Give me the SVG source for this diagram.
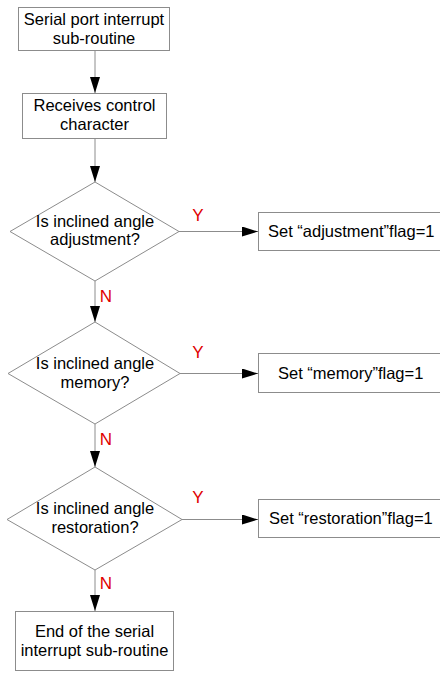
<svg xmlns="http://www.w3.org/2000/svg" width="440" height="673" viewBox="0 0 440 673">
<defs>
<marker id="ah" markerWidth="16" markerHeight="10" refX="16" refY="5" orient="auto" markerUnits="userSpaceOnUse">
<path d="M0,0 L16,5 L0,10 Z" fill="#000"/>
</marker>
</defs>
<style>
.box{fill:#fff;stroke:#8c8c8c;stroke-width:1}
.t{font-family:"Liberation Sans",Arial,sans-serif;font-size:16.5px;fill:#000;text-anchor:middle}
.tl{font-family:"Liberation Sans",Arial,sans-serif;font-size:16.5px;fill:#000}
.lab{font-family:"Liberation Sans",Arial,sans-serif;font-size:17px;fill:#e00000;text-anchor:middle}
.c{stroke:#8c8c8c;stroke-width:1;fill:none;marker-end:url(#ah)}
</style>
<rect width="440" height="673" fill="#fff"/>
<g id="connectors">
<line class="c" x1="95" y1="51" x2="95" y2="93"/>
<line class="c" x1="95" y1="139" x2="95" y2="182"/>
<line class="c" x1="179" y1="231.5" x2="258" y2="231.5"/>
<line class="c" x1="95" y1="281" x2="95" y2="322"/>
<line class="c" x1="180" y1="373.5" x2="258" y2="373.5"/>
<line class="c" x1="95" y1="424" x2="95" y2="467"/>
<line class="c" x1="182" y1="519.5" x2="258" y2="519.5"/>
<line class="c" x1="95" y1="570" x2="95" y2="611"/>
<text class="lab" x="198" y="221">Y</text>
<text class="lab" x="106" y="302">N</text>
<text class="lab" x="198" y="358">Y</text>
<text class="lab" x="106" y="445">N</text>
<text class="lab" x="198" y="503">Y</text>
<text class="lab" x="106" y="589">N</text>
</g>
<g id="start">
<rect class="box" x="18.5" y="7.5" width="151" height="43"/>
<text class="t" x="94" y="25">Serial port interrupt</text>
<text class="t" x="94" y="44">sub-routine</text>
</g>
<g id="receive">
<rect class="box" x="22.5" y="93.5" width="144" height="45"/>
<text class="t" x="94.5" y="111">Receives control</text>
<text class="t" x="94.5" y="130">character</text>
</g>
<g id="dec1">
<polygon class="box" points="95,182 179,231.5 95,281 10,231.5"/>
<text class="t" x="95" y="227">Is inclined angle</text>
<text class="t" x="95" y="245">adjustment?</text>
</g>
<g id="set1">
<rect class="box" x="258.5" y="212.5" width="183" height="38"/>
<text class="tl" x="268" y="237">Set “adjustment”flag=1</text>
</g>
<g id="dec2">
<polygon class="box" points="95,322 180,373.5 95,424 8,373.5"/>
<text class="t" x="95" y="369">Is inclined angle</text>
<text class="t" x="95" y="388">memory?</text>
</g>
<g id="set2">
<rect class="box" x="258.5" y="353.5" width="183" height="39"/>
<text class="tl" x="278" y="379">Set “memory”flag=1</text>
</g>
<g id="dec3">
<polygon class="box" points="95,467 182,519.5 95,570 7,519.5"/>
<text class="t" x="95" y="514">Is inclined angle</text>
<text class="t" x="95" y="533">restoration?</text>
</g>
<g id="set3">
<rect class="box" x="258.5" y="499.5" width="183" height="38"/>
<text class="tl" x="269" y="524">Set “restoration”flag=1</text>
</g>
<g id="end">
<rect class="box" x="15.5" y="611.5" width="158" height="59"/>
<text class="t" x="94.5" y="637">End of the serial</text>
<text class="t" x="94.5" y="656">interrupt sub-routine</text>
</g>
</svg>
